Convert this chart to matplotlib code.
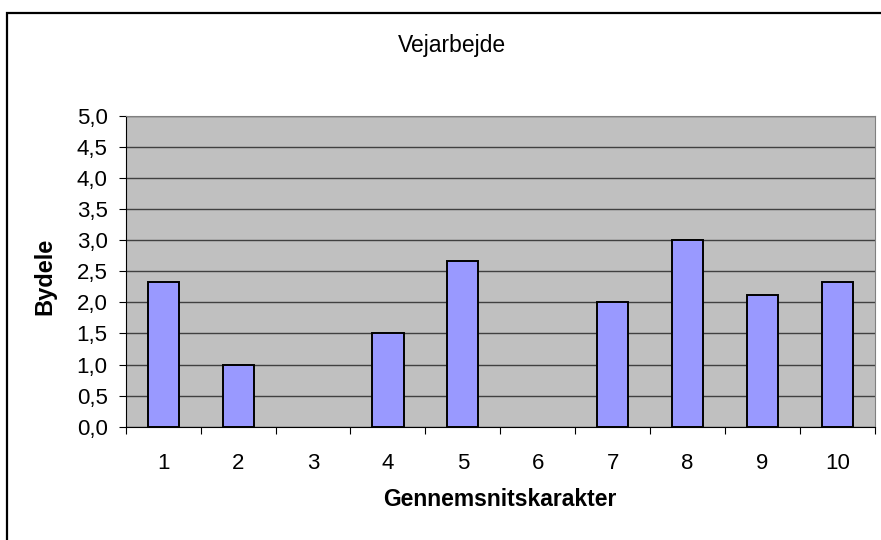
import matplotlib.pyplot as plt
from matplotlib.patches import Rectangle
from matplotlib.ticker import FuncFormatter, MultipleLocator

plt.rcParams['font.family'] = ['Liberation Sans', 'DejaVu Sans']

categories = [1, 2, 3, 4, 5, 6, 7, 8, 9, 10]
bydele = [2.33, 1.0, 0.0, 1.5, 2.67, 0.0, 2.0, 3.0, 2.125, 2.33]
title = "Vejarbejde"
xlabel = "Gennemsnitskarakter"
ylabel = "Bydele"

W, H = 881, 540
fig = plt.figure(figsize=(W / 100, H / 100), dpi=100)

# outer chart frame (right and bottom edges fall outside the picture)
fig.patches.append(Rectangle((7 / W, -0.1), 1.2, 1.1 - 13 / H,
                             transform=fig.transFigure, fill=False,
                             edgecolor='black', linewidth=1.6))

ax = fig.add_axes([125.7 / W, 1 - 426.7 / H, (875 - 125.7) / W, (426.7 - 115.7) / H])
ax.set_facecolor('#C0C0C0')

pos = list(range(len(categories)))
# empty categories get no outline, like the original
edges = ['black' if v > 0 else 'none' for v in bydele]
ax.bar(pos, bydele, width=0.415, color='#9999FF', edgecolor=edges,
       linewidth=1.4, zorder=3)

ax.set_xlim(-0.5, len(categories) - 0.5)
ax.set_ylim(0, 5)
ax.yaxis.set_major_locator(MultipleLocator(0.5))
ax.yaxis.set_major_formatter(FuncFormatter(lambda v, _: f"{v:.1f}".replace('.', ',')))
ax.grid(axis='y', color='#404040', linewidth=1.0, zorder=1)
ax.set_axisbelow(True)

ax.set_xticks(pos)
ax.set_xticklabels([str(c) for c in categories])
ax.set_xticks([p - 0.5 for p in pos] + [len(pos) - 0.5], minor=True)
ax.tick_params(axis='x', which='major', length=0, pad=19, labelsize=16)
ax.tick_params(axis='x', which='minor', length=5, width=0.8, direction='out')
ax.tick_params(axis='y', length=5, width=0.8, pad=8, labelsize=16)

for side in ('top', 'right'):
    ax.spines[side].set_color('#808080')
    ax.spines[side].set_linewidth(0.8)
for side in ('left', 'bottom'):
    ax.spines[side].set_color('black')
    ax.spines[side].set_linewidth(0.8)

fig.text(452 / W, 1 - 51.7 / H, title, ha='center', va='baseline', fontsize=16.5)
fig.text(500 / W, 1 - 506 / H, xlabel, ha='center', va='baseline',
         fontsize=16.5, fontweight='bold')
fig.text(45 / W, 1 - 276 / H, ylabel, ha='center', va='center', rotation=90,
         fontsize=17, fontweight='bold')

fig.savefig('out.png', dpi=100)
